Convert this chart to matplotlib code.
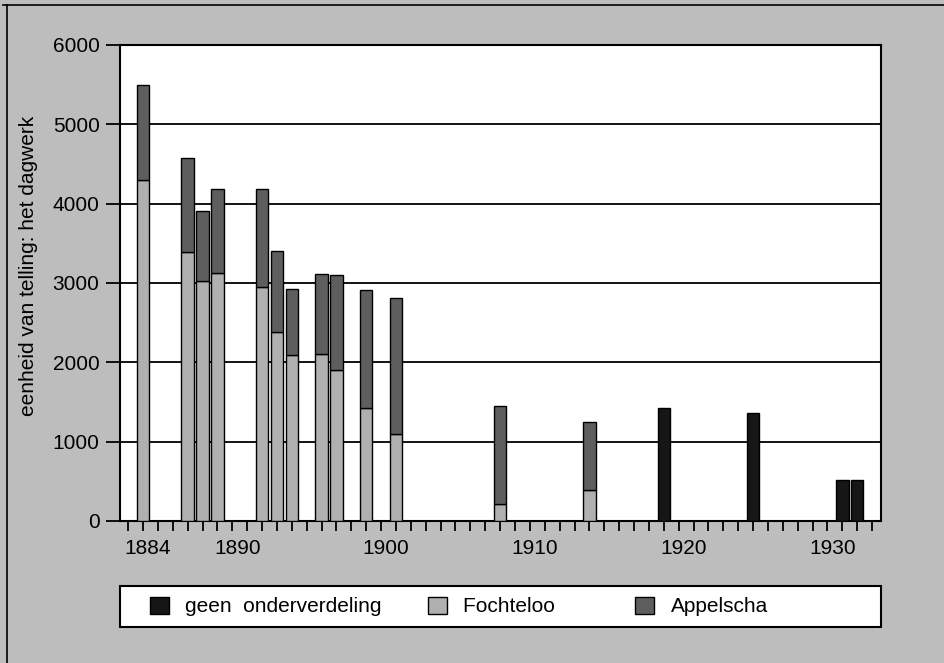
import matplotlib
matplotlib.use("Agg")
import matplotlib.pyplot as plt
import matplotlib.transforms as mtransforms
from matplotlib.patches import Patch, Rectangle
from matplotlib.lines import Line2D

# ---- data ----
years = [1884, 1887, 1888, 1889, 1892, 1893, 1894, 1896, 1897, 1899, 1901, 1908, 1914]
fochteloo = [4300, 3390, 3030, 3120, 2950, 2380, 2090, 2100, 1900, 1430, 1100, 210, 390]
appelscha = [1200, 1190, 880, 1060, 1230, 1020, 830, 1010, 1200, 1480, 1710, 1240, 860]
geen_years = [1919, 1925, 1931, 1932]
geen = [1420, 1360, 520, 520]
xtick_labels = [1884, 1890, 1900, 1910, 1920, 1930]
yticks = [0, 1000, 2000, 3000, 4000, 5000, 6000]
labels = ["geen  onderverdeling", "Fochteloo", "Appelscha"]

# ---- style ----
plt.rcParams['font.family'] = ['Liberation Sans', 'DejaVu Sans']
bg = '#bdbdbd'
c_geen = '#161616'
c_foch = '#b0b0b0'
c_app = '#5e5e5e'

fig = plt.figure(figsize=(9.44, 6.63), dpi=100, facecolor=bg)
ax = fig.add_axes([120/944, 1-521/663, 761/944, 476/663])
ax.set_facecolor('white')

w = 0.84
ax.bar(years, fochteloo, width=w, color=c_foch, edgecolor='black', linewidth=1.0, zorder=3)
ax.bar(years, appelscha, width=w, bottom=fochteloo, color=c_app, edgecolor='black', linewidth=1.0, zorder=3)
ax.bar(geen_years, geen, width=w, color=c_geen, edgecolor='black', linewidth=1.0, zorder=3)

ax.set_xlim(1882.45, 1933.6)
ax.set_ylim(0, 6000)
ax.set_yticks(yticks)
ax.set_yticklabels([str(v) for v in yticks])
ax.set_xticks(xtick_labels)
ax.set_xticklabels([str(v) for v in xtick_labels])
ax.set_xticks(range(1883, 1934), minor=True)

for yv in yticks[1:-1]:
    ax.axhline(yv, color='black', linewidth=1.3, zorder=2)

for s in ax.spines.values():
    s.set_color('black')
    s.set_linewidth(1.5)

ax.tick_params(axis='y', direction='out', length=10, width=1.3, pad=4.7, labelsize=15, colors='black')
ax.tick_params(axis='x', which='both', direction='out', length=7, width=1.3, pad=6, labelsize=15, colors='black')

offset = mtransforms.ScaledTranslation(5/100, 0, fig.dpi_scale_trans)
for lab in ax.get_xticklabels():
    lab.set_transform(lab.get_transform() + offset)

ax.set_ylabel("eenheid van telling: het dagwerk", fontsize=15)
ax.yaxis.set_label_coords(-0.108, 0.536)

# legend frame
fig.add_artist(Rectangle((120/944, 1-627/663), 761/944, 41/663, transform=fig.transFigure,
                         facecolor='white', edgecolor='black', linewidth=1.5, zorder=1))

handles = [Patch(facecolor=c_geen, edgecolor='black'),
           Patch(facecolor=c_foch, edgecolor='black'),
           Patch(facecolor=c_app, edgecolor='black')]
leg_labels = [labels[0], labels[1] + "      ", labels[2]]
leg = fig.legend(handles, leg_labels, loc='center left', ncol=3,
                 bbox_to_anchor=(150/944, 1-606.5/663),
                 fontsize=15, frameon=False,
                 handlelength=0.9, handleheight=0.9, handletextpad=0.8,
                 columnspacing=2.2, borderaxespad=0, borderpad=0)
leg.set_zorder(5)

# outer frame lines (top and left)
fig.add_artist(Line2D([3/944, 1], [1-5/663, 1-5/663], transform=fig.transFigure, color='black', linewidth=1.2))
fig.add_artist(Line2D([7/944, 7/944], [0, 1-5/663], transform=fig.transFigure, color='black', linewidth=1.2))

fig.savefig("out.png", dpi=100, facecolor=bg)
